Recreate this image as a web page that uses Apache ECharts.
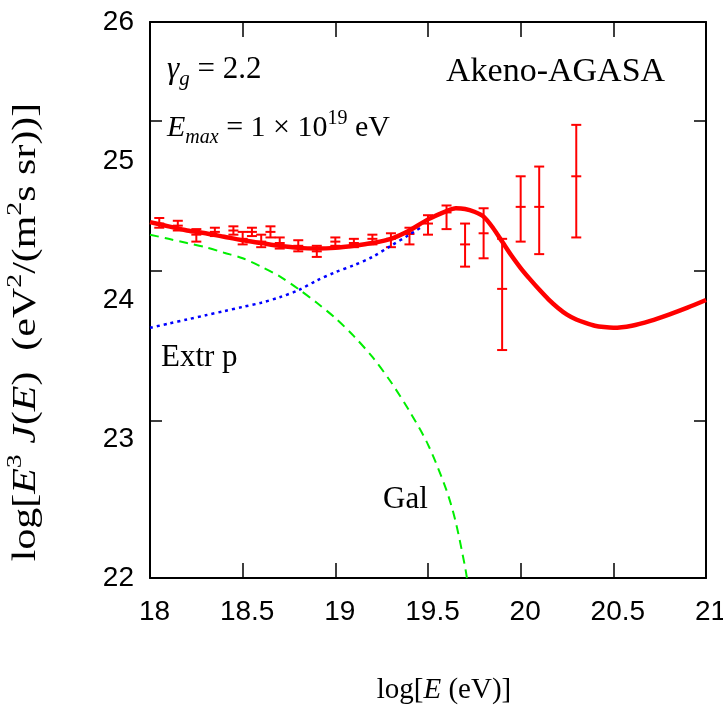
<!DOCTYPE html>
<html><head><meta charset="utf-8">
<script src="https://cdn.jsdelivr.net/npm/echarts@6/dist/echarts.min.js"></script>
<style>html,body{margin:0;padding:0;background:#fff}#c{width:723px;height:717px}</style>
</head><body><div id="c"></div>
<script>
// Data points (Akeno + AGASA): logE, value, low, high
const ptX  = [18.05, 18.15, 18.25, 18.35, 18.45, 18.50, 18.55, 18.60, 18.65, 18.70, 18.80, 18.90, 19.00, 19.10, 19.20, 19.30, 19.40, 19.50, 19.60, 19.70, 19.80, 19.90, 20.00, 20.10, 20.30];
const ptY  = [24.55, 24.535, 24.47, 24.49, 24.50, 24.44, 24.49, 24.42, 24.49, 24.41, 24.39, 24.35, 24.42, 24.41, 24.44, 24.44, 24.475, 24.55, 24.63, 24.40, 24.48, 24.08, 24.67, 24.67, 24.89];
const ptLo = [24.52, 24.50, 24.42, 24.46, 24.47, 24.40, 24.46, 24.38, 24.45, 24.37, 24.35, 24.31, 24.39, 24.38, 24.40, 24.38, 24.40, 24.47, 24.51, 24.24, 24.30, 23.64, 24.42, 24.33, 24.45];
const ptHi = [24.59, 24.57, 24.51, 24.52, 24.53, 24.49, 24.52, 24.47, 24.53, 24.45, 24.43, 24.39, 24.45, 24.44, 24.47, 24.48, 24.52, 24.61, 24.68, 24.55, 24.66, 24.44, 24.89, 24.96, 25.26];

// Total model curve
const totX = [18.0, 18.1, 18.2, 18.3, 18.4, 18.5, 18.6, 18.7, 18.8, 18.9, 19.0, 19.1, 19.2, 19.3, 19.4, 19.5, 19.6, 19.65, 19.7, 19.75, 19.8, 19.85, 19.9, 19.95, 20.0, 20.05, 20.1, 20.15, 20.2, 20.25, 20.3, 20.35, 20.4, 20.45, 20.5, 20.6, 20.7, 20.8, 20.9, 21.0];
const totY = [24.56, 24.53, 24.50, 24.48, 24.455, 24.43, 24.41, 24.39, 24.375, 24.37, 24.375, 24.39, 24.41, 24.44, 24.50, 24.58, 24.64, 24.66, 24.655, 24.635, 24.60, 24.52, 24.42, 24.32, 24.23, 24.15, 24.075, 24.005, 23.945, 23.895, 23.86, 23.835, 23.815, 23.805, 23.80, 23.815, 23.85, 23.895, 23.945, 24.00];

// Galactic component
const galX = [18.0, 18.1, 18.2, 18.3, 18.4, 18.5, 18.6, 18.7, 18.8, 18.9, 19.0, 19.1, 19.2, 19.3, 19.4, 19.5, 19.6, 19.65, 19.7, 19.71];
const galY = [24.47, 24.44, 24.41, 24.38, 24.34, 24.30, 24.24, 24.17, 24.08, 23.98, 23.87, 23.74, 23.59, 23.41, 23.20, 22.96, 22.63, 22.40, 22.08, 22.00];

// Extragalactic protons
const extX = [18.0, 18.1, 18.2, 18.3, 18.4, 18.5, 18.6, 18.7, 18.8, 18.9, 19.0, 19.1, 19.2, 19.3, 19.4, 19.47];
const extY = [23.80, 23.83, 23.86, 23.89, 23.92, 23.95, 23.98, 24.02, 24.07, 24.14, 24.20, 24.25, 24.31, 24.39, 24.47, 24.53];

const xTicks = [18, 18.5, 19, 19.5, 20, 20.5, 21];
const yTicks = [22, 23, 24, 25, 26];
// positions of the frame tick marks on the vertical axes, as drawn in the reference
const yTickMarks = [23.13, 24.21, 25.29];

const zip = (a, b) => a.map((v, i) => [v, b[i]]);
const SERIF = "'Liberation Serif','Times New Roman',serif";
const SANS = "'Liberation Sans Narrow','Liberation Sans',Arial,sans-serif";

const chart = echarts.init(document.getElementById('c'), null, {renderer: 'canvas'});

const tickLbl = {fontFamily: SANS, fontSize: 28, color: '#000'};
function rich(fs) {
  const sub = Math.round(fs * 0.68);
  return {
    n: {fontFamily: SERIF, fontSize: fs, fontWeight: 'normal', color: '#000', lineHeight: fs * 1.3},
    i: {fontFamily: SERIF, fontSize: fs, fontStyle: 'italic', fontWeight: 'normal', color: '#000', lineHeight: fs * 1.3},
    s: {fontFamily: SERIF, fontSize: sub, fontWeight: 'normal', color: '#000', verticalAlign: 'top', lineHeight: fs * 1.3},
    si: {fontFamily: SERIF, fontSize: sub, fontStyle: 'italic', fontWeight: 'normal', color: '#000', verticalAlign: 'bottom', lineHeight: fs * 1.1}
  };
}
const plain = fs => ({fontFamily: SERIF, fontSize: fs, fontWeight: 'normal', color: '#000'});

chart.setOption({
  animation: false,
  backgroundColor: '#fff',
  grid: {left: 150, right: 17, top: 22, bottom: 139, containLabel: false, outerBoundsMode: 'none'},
  title: [
    {text: '{i|γ}{si|g}{n| = 2.2}', left: 162, top: 45, textStyle: {fontWeight: 'normal', rich: rich(31)}},
    {text: '{i|E}{si|max}{n| = 1 × 10}{s|19}{n| eV}', left: 162, top: 104, textStyle: {fontWeight: 'normal', rich: rich(30)}},
    {text: 'Akeno-AGASA', left: 441, top: 50, textStyle: plain(34)},
    {text: 'Extr p', left: 156, top: 337, textStyle: plain(31)},
    {text: 'Gal', left: 378, top: 479, textStyle: plain(31)}
  ],
  graphic: [{
    type: 'text', x: 26, y: 332, rotation: Math.PI / 2, scaleX: 1.27, scaleY: 1,
    style: {
      text: '{n|log[}{i|E}{s|3}{n| }{i|J}{n|(}{i|E}{n|)  (eV}{s|2}{n|/(m}{s|2}{n|s sr))]}',
      rich: rich(33), align: 'center', verticalAlign: 'middle'
    }
  }, {
    type: 'text', x: 444, y: 690,
    style: {
      text: '{n|log[}{i|E}{n| (eV)]}',
      rich: rich(29), align: 'center', verticalAlign: 'middle'
    }
  }],
  xAxis: [{
    type: 'value', min: 18, max: 21, interval: 0.5, position: 'bottom',
    axisLine: {lineStyle: {color: '#000', width: 2}},
    axisTick: {inside: true, length: 15, lineStyle: {color: '#000', width: 1.5}},
    axisLabel: Object.assign({margin: 20, padding: [0, 0, 0, 9], formatter: v => String(v)}, tickLbl),
    splitLine: {show: false}
  }, {
    type: 'value', min: 18, max: 21, interval: 0.5, position: 'top',
    axisLine: {lineStyle: {color: '#000', width: 2}},
    axisTick: {inside: true, length: 15, lineStyle: {color: '#000', width: 1.5}},
    axisLabel: {show: false}, splitLine: {show: false}
  }],
  yAxis: [{
    type: 'value', min: 22, max: 26, interval: 1, position: 'left',
    axisLine: {show: true, lineStyle: {color: '#000', width: 2}},
    axisTick: {inside: true, length: 12, customValues: yTickMarks, lineStyle: {color: '#000', width: 1.5}},
    axisLabel: Object.assign({margin: 16, customValues: yTicks}, tickLbl),
    splitLine: {show: false}
  }, {
    type: 'value', min: 22, max: 26, interval: 1, position: 'right',
    axisLine: {show: true, lineStyle: {color: '#000', width: 2}},
    axisTick: {inside: true, length: 12, customValues: yTickMarks, lineStyle: {color: '#000', width: 1.5}},
    axisLabel: {show: false}, splitLine: {show: false}
  }],
  series: [
    {type: 'line', data: zip(galX, galY), showSymbol: false, smooth: 0.3, clip: true,
     lineStyle: {color: '#00ee00', width: 2, type: [9, 6]}},
    {type: 'line', data: zip(extX, extY), showSymbol: false, smooth: 0.3, clip: true,
     lineStyle: {color: '#0000ff', width: 2.5, type: [3, 4]}},
    {type: 'line', data: zip(totX, totY), showSymbol: false, smooth: 0.3, clip: true,
     lineStyle: {color: '#ff0000', width: 4.5}},
    {type: 'custom', clip: true,
     data: ptX.map((x, i) => [x, ptY[i], ptLo[i], ptHi[i]]),
     renderItem: function (params, api) {
       const x = api.value(0);
       const c = api.coord([x, api.value(1)]);
       const lo = api.coord([x, api.value(2)]);
       const hi = api.coord([x, api.value(3)]);
       const w = 5;
       const st = {stroke: '#ff0000', lineWidth: 2};
       return {type: 'group', children: [
         {type: 'line', shape: {x1: c[0], y1: lo[1], x2: c[0], y2: hi[1]}, style: st},
         {type: 'line', shape: {x1: c[0] - w, y1: lo[1], x2: c[0] + w, y2: lo[1]}, style: st},
         {type: 'line', shape: {x1: c[0] - w, y1: hi[1], x2: c[0] + w, y2: hi[1]}, style: st},
         {type: 'line', shape: {x1: c[0] - w, y1: c[1], x2: c[0] + w, y2: c[1]}, style: st}
       ]};
     }}
  ]
});
</script></body></html>
